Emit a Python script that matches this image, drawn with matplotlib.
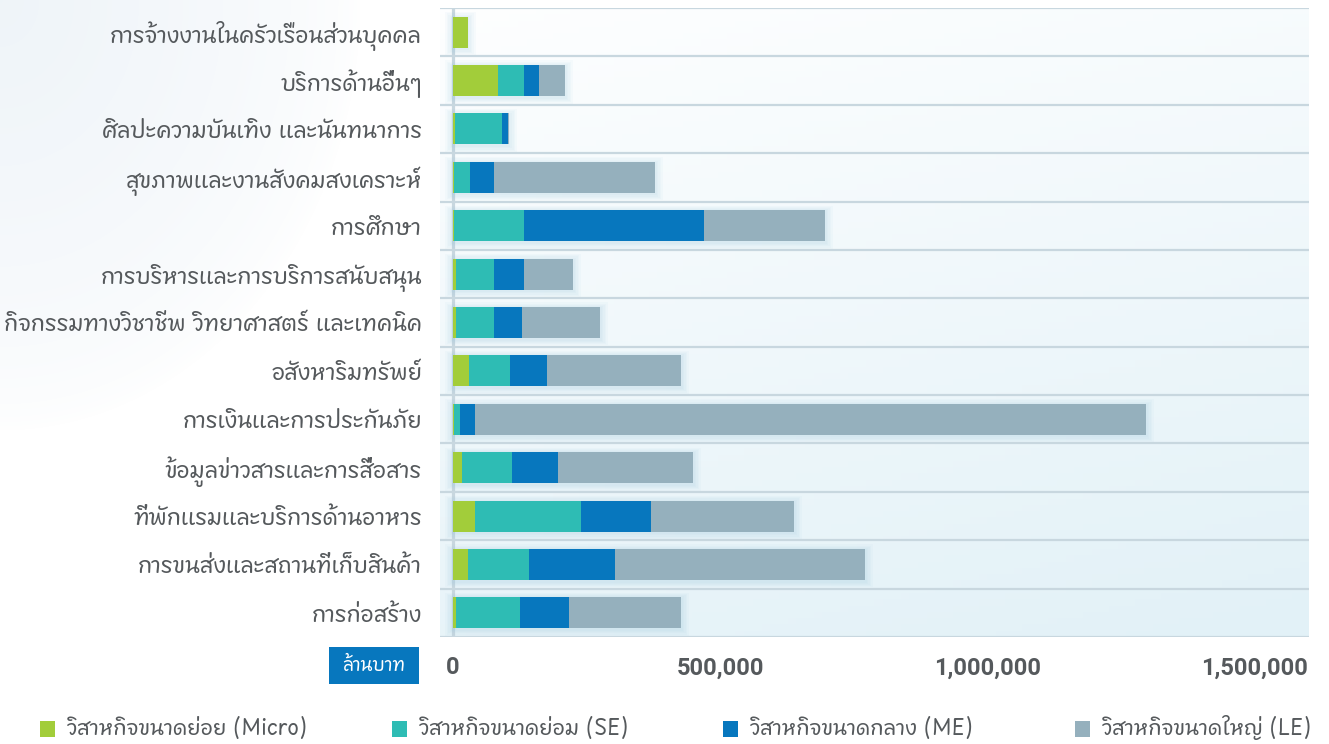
import numpy as np
import matplotlib
matplotlib.use("Agg")
import matplotlib.pyplot as plt
from matplotlib import font_manager
from matplotlib.ft2font import FT2Font
from matplotlib.patches import Rectangle


CATEGORIES = [
    "การจ้างงานในครัวเรือนส่วนบุคคล",
    "บริการด้านอื่นๆ",
    "ศิลปะความบันเทิง และนันทนาการ",
    "สุขภาพและงานสังคมสงเคราะห์",
    "การศึกษา",
    "การบริหารและการบริการสนับสนุน",
    "กิจกรรมทางวิชาชีพ วิทยาศาสตร์ และเทคนิค",
    "อสังหาริมทรัพย์",
    "การเงินและการประกันภัย",
    "ข้อมูลข่าวสารและการสื่อสาร",
    "ที่พักแรมและบริการด้านอาหาร",
    "การขนส่งและสถานที่เก็บสินค้า",
    "การก่อสร้าง",
]
MICRO = [27500, 84200, 3700, 1000, 1500, 5600, 5600, 29900, 1000, 16800, 41200, 28100, 5600]
SE = [0, 48700, 88000, 30800, 131400, 71100, 71100, 76800, 12100, 93600, 198300, 114100, 119800]
ME = [0, 28000, 11800, 44900, 336800, 56200, 52400, 69200, 28100, 86100, 131000, 160900, 91700]
LE = [0, 48700, 1000, 301300, 226400, 91700, 146000, 250700, 1255600, 252600, 267600, 467900, 209500]

X_TICKS = [0, 500000, 1000000, 1500000]
UNIT_LABEL = "ล้านบาท"
LEGEND_LABELS = [
    "วิสาหกิจขนาดย่อย (Micro)",
    "วิสาหกิจขนาดย่อม (SE)",
    "วิสาหกิจขนาดกลาง (ME)",
    "วิสาหกิจขนาดใหญ่ (LE)",
]
COLORS = ["#a2cd3a", "#2ebcb4", "#0777be", "#95b0bd"]

W, H = 1329, 744
TEXT_COLOR = "#55595c"
GRID_COLOR = "#c8d7df"


def find_thai_font():
    found = []
    for f in font_manager.fontManager.ttflist:
        try:
            if 0x0E01 not in FT2Font(f.fname).get_charmap():
                continue
        except Exception:
            continue
        score = 0
        if "Thai" in f.name:
            score += 2
        if "Looped" in f.name:
            score -= 1
        if f.weight in (400, "normal", "regular") and f.style == "normal":
            score += 1
        found.append((score, f.name))
    if not found:
        return None
    found.sort(reverse=True)
    return found[0][1]


thai = find_thai_font()
families = ([thai] if thai else []) + ["DejaVu Sans"]
plt.rcParams["font.family"] = families


def px_x(x):
    return x / W


def px_y(y):
    return 1 - y / H


fig = plt.figure(figsize=(W / 100, H / 100), dpi=100)

# soft tint in the top-left corner of the page
bg = fig.add_axes([0, 0, 1, 1], zorder=-10)
yy, xx = np.mgrid[0:H, 0:W]
t = np.clip(1 - np.sqrt((xx / 360) ** 2 + (yy / 430) ** 2), 0, 1) ** 0.6 * 0.7
c0 = np.array([1.0, 1.0, 1.0])
c1 = np.array([0.91, 0.94, 0.965])
img = c0[None, None, :] * (1 - t[..., None]) + c1[None, None, :] * t[..., None]
bg.imshow(img, extent=[0, 1, 0, 1], aspect="auto")
bg.axis("off")

ax = fig.add_axes([px_x(440), px_y(637), px_x(1309 - 440), (637 - 8) / H])
ax.set_facecolor("none")

x_lo = -24300
x_hi = 1601800
n = len(CATEGORIES)
y = np.arange(n)

# plot area gradient, white at top to pale blue at bottom
gy, gx = np.mgrid[0:100, 0:100] / 99.0
g = np.clip(0.8 * gy + 0.25 * gx, 0, 1)
top = np.array([0.995, 0.998, 1.0])
bot = np.array([0.89, 0.947, 0.97])
grad = top[None, None, :] * (1 - g[..., None]) + bot[None, None, :] * g[..., None]
ax.imshow(grad, extent=[x_lo, x_hi, n - 0.5, -0.5], aspect="auto", zorder=0)

# row separators and zero line
ax.hlines(np.arange(n + 1) - 0.5, x_lo, x_hi, color=GRID_COLOR, lw=1.6, zorder=1)
ax.axvline(0, color=GRID_COLOR, lw=2.3, zorder=1)

totals = np.array(MICRO) + np.array(SE) + np.array(ME) + np.array(LE)

# faint glow under each bar
for k in range(1, 6):
    ax.barh(y + 0.03, totals + 6000 * k, height=0.64 + 0.05 * k, left=-3000 * k,
            color="#8fc3de", alpha=0.05, linewidth=0, zorder=2)

left = np.zeros(n)
for vals, col, lab in zip([MICRO, SE, ME, LE], COLORS, LEGEND_LABELS):
    ax.barh(y, vals, left=left, height=0.64, color=col, linewidth=0, label=lab, zorder=3)
    left = left + np.array(vals)

ax.set_xlim(x_lo, x_hi)
ax.set_ylim(n - 0.5, -0.5)
ax.set_yticks(y)
ax.set_yticklabels(CATEGORIES, fontsize=16, color=TEXT_COLOR)
ax.set_xticks(X_TICKS)
ax.set_xticklabels([f"{v:,}" for v in X_TICKS], fontsize=17, fontweight="bold",
                   color=TEXT_COLOR, family=["Roboto", "DejaVu Sans"])
ax.tick_params(axis="y", length=0, pad=13)
ax.tick_params(axis="x", length=0, pad=14)
for s in ax.spines.values():
    s.set_visible(False)

# unit box
fig.add_artist(Rectangle((px_x(329), px_y(684)), 90 / W, 37 / H,
                         transform=fig.transFigure, facecolor="#0777be", edgecolor="none"))
fig.text(px_x(374), px_y(666), UNIT_LABEL, color="white", fontsize=13, fontweight="bold",
         ha="center", va="center")

# legend row
legend_x = [40, 392, 723, 1075]
for lx, col, lab in zip(legend_x, COLORS, LEGEND_LABELS):
    fig.add_artist(Rectangle((px_x(lx), px_y(737)), 15 / W, 16 / H,
                             transform=fig.transFigure, facecolor=col, edgecolor="none"))
    fig.text(px_x(lx + 28), px_y(729), lab, color=TEXT_COLOR, fontsize=15,
             ha="left", va="center")

fig.savefig("out.png", dpi=100)
